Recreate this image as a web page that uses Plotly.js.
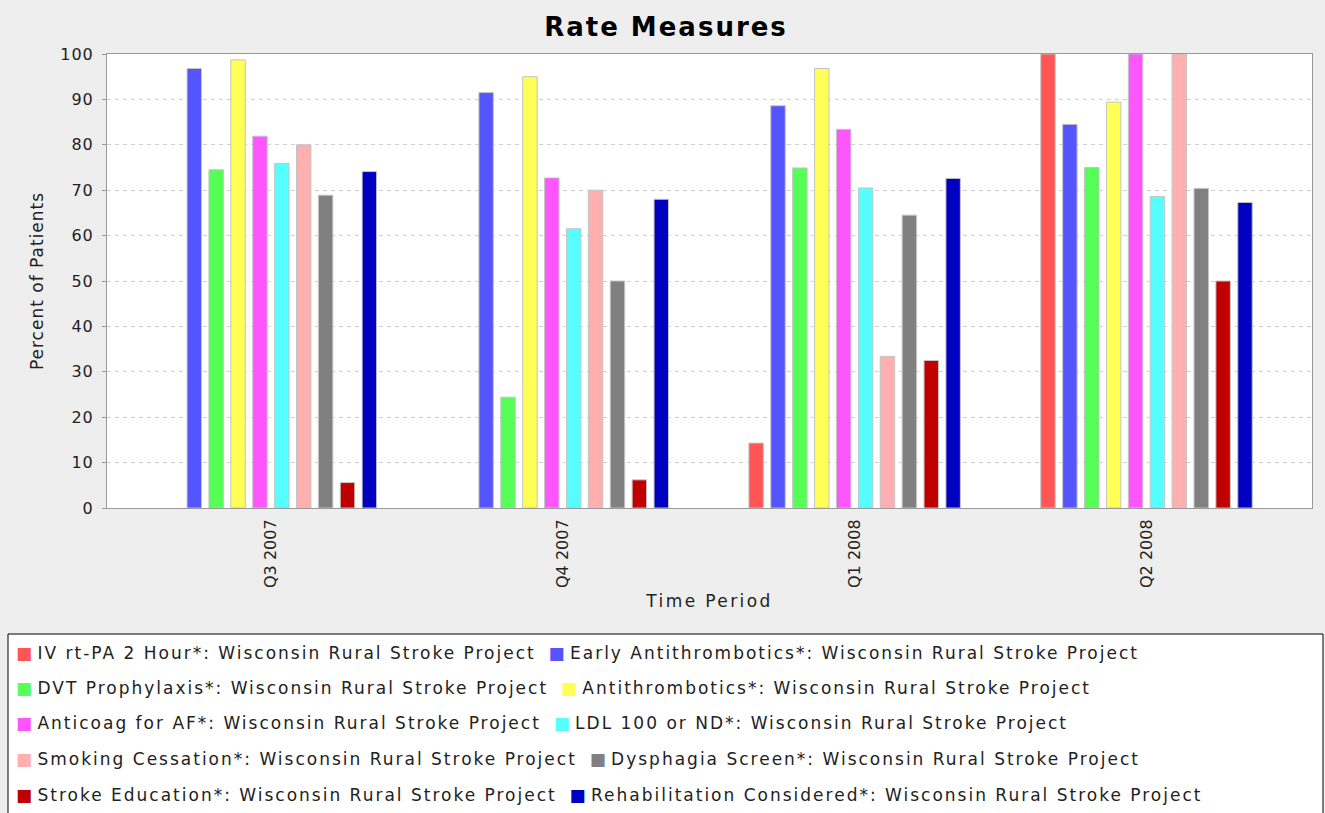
<!DOCTYPE html>
<html>
<head>
<meta charset="utf-8">
<script src="https://cdn.plot.ly/plotly-3.0.1.min.js"></script>
<style>
  html, body { margin: 0; padding: 0; background: #EEEEEE; }
  #chart { width: 1325px; height: 813px; }
</style>
</head>
<body>
<div id="chart"></div>
<script>
// ---- data ----
const categories = ["Q3 2007", "Q4 2007", "Q1 2008", "Q2 2008"];
const seriesNames = [
  "IV rt-PA 2 Hour*: Wisconsin Rural Stroke Project",
  "Early Antithrombotics*: Wisconsin Rural Stroke Project",
  "DVT Prophylaxis*: Wisconsin Rural Stroke Project",
  "Antithrombotics*: Wisconsin Rural Stroke Project",
  "Anticoag for AF*: Wisconsin Rural Stroke Project",
  "LDL 100 or ND*: Wisconsin Rural Stroke Project",
  "Smoking Cessation*: Wisconsin Rural Stroke Project",
  "Dysphagia Screen*: Wisconsin Rural Stroke Project",
  "Stroke Education*: Wisconsin Rural Stroke Project",
  "Rehabilitation Considered*: Wisconsin Rural Stroke Project"
];
const ivRtPA        = [null, null, 14.3, 100];
const earlyAntithr  = [96.8, 91.5, 88.6, 84.5];
const dvtProphylax  = [74.5, 24.4, 74.9, 75.0];
const antithromb    = [98.7, 95.0, 96.8, 89.4];
const anticoagAF    = [81.9, 72.7, 83.4, 100];
const ldl100        = [75.9, 61.5, 70.5, 68.6];
const smokingCess   = [80.0, 70.0, 33.4, 100];
const dysphagia     = [68.9, 50.0, 64.5, 70.4];
const strokeEdu     = [5.6, 6.2, 32.5, 50.0];
const rehabConsid   = [74.1, 68.0, 72.6, 67.3];
const seriesValues = [ivRtPA, earlyAntithr, dvtProphylax, antithromb, anticoagAF,
                      ldl100, smokingCess, dysphagia, strokeEdu, rehabConsid];
const yTicks = [0, 10, 20, 30, 40, 50, 60, 70, 80, 90, 100];

// ---- style ----
const colors = ["#FF5555", "#5555FF", "#55FF55", "#FFFF55", "#FF55FF",
                "#55FFFF", "#FFAFAF", "#808080", "#C00000", "#0000C0"];
const FONT = "DejaVu Sans, Verdana, sans-serif";
const spaced = (t, ls) => `<span style="letter-spacing:${ls}px">${t}</span>`;

const traces = seriesNames.map((name, i) => ({
  type: "bar",
  name: name,
  x: categories,
  y: seriesValues[i],
  marker: { color: colors[i], line: { color: "#C4C4C4", width: 1 } },
  showlegend: false,
  hoverinfo: "x+y+name"
}));

// plot area geometry (pixels) used to convert legend layout into paper coords
const W = 1325, H = 813;
const mL = 107, mR = 13, mT = 54, mB = 305;
const pw = W - mL - mR, ph = H - mT - mB;
const px = x => (x - mL) / pw;
const py = y => (H - mB - y) / ph;

// legend rows (flow layout, 2 items per row)
const rowY = [653, 688, 723, 759, 795];
const LS = 2.0;
const swatch = c => `<span style="color:${c};letter-spacing:0px">■ </span>`;
const annotations = [];
for (let r = 0; r < 5; r++) {
  const a = 2 * r, b = 2 * r + 1;
  const txt = swatch(colors[a]) + spaced(seriesNames[a] + " ", LS) +
              `<span style="letter-spacing:0px"> </span>` +
              swatch(colors[b]) + spaced(seriesNames[b], LS);
  annotations.push({
    xref: "paper", yref: "paper", x: px(14), y: py(rowY[r]),
    xanchor: "left", yanchor: "middle", showarrow: false,
    text: txt, font: { family: FONT, size: 17, color: "#222222" }
  });
}

const layout = {
  width: W, height: H,
  paper_bgcolor: "#EEEEEE",
  plot_bgcolor: "#FFFFFF",
  margin: { l: mL, r: mR, t: mT, b: mB, pad: 0 },
  font: { family: FONT, color: "#222222" },
  title: {
    text: "<b>" + spaced("Rate Measures", 2) + "</b>",
    font: { family: FONT, size: 26, color: "#000000" },
    x: 666 / W, xref: "container", xanchor: "center",
    y: 1 - 27 / H, yref: "container", yanchor: "middle"
  },
  barmode: "group",
  bargap: 0.25,
  bargroupgap: 0.34,
  xaxis: {
    type: "category",
    range: [-0.5615, 3.567],
    tickvals: categories,
    ticktext: categories,
    tickangle: -90,
    tickfont: { family: FONT, size: 16, color: "#222222" },
    ticks: "", ticklabelstandoff: 4,
    showgrid: false, zeroline: false,
    showline: true, linecolor: "#999999", linewidth: 1, mirror: true,
    title: { text: spaced("Time Period", 2.4), font: { family: FONT, size: 17, color: "#222222" }, standoff: 8 },
    automargin: false, fixedrange: true
  },
  yaxis: {
    range: [0, 100],
    tickvals: yTicks,
    ticktext: yTicks.map(v => spaced(String(v), 1)),
    tickfont: { family: FONT, size: 16, color: "#222222" },
    ticks: "outside", ticklen: 4, tickcolor: "#999999",
    ticklabelstandoff: 5,
    showgrid: true, gridcolor: "#D0D0D0", griddash: "4px,4px", gridwidth: 1,
    zeroline: false,
    showline: true, linecolor: "#999999", linewidth: 1, mirror: true,
    title: { text: spaced("Percent of Patients", 1), font: { family: FONT, size: 17, color: "#222222" }, standoff: 12 },
    automargin: false, fixedrange: true
  },
  shapes: [{
    type: "rect", xref: "paper", yref: "paper",
    x0: px(8), x1: px(1323), y0: py(634), y1: py(816),
    line: { color: "#000000", width: 1 }, fillcolor: "#FFFFFF", layer: "below"
  }],
  annotations: annotations
};

Plotly.newPlot("chart", traces, layout, { displayModeBar: false, staticPlot: true });
</script>
</body>
</html>
